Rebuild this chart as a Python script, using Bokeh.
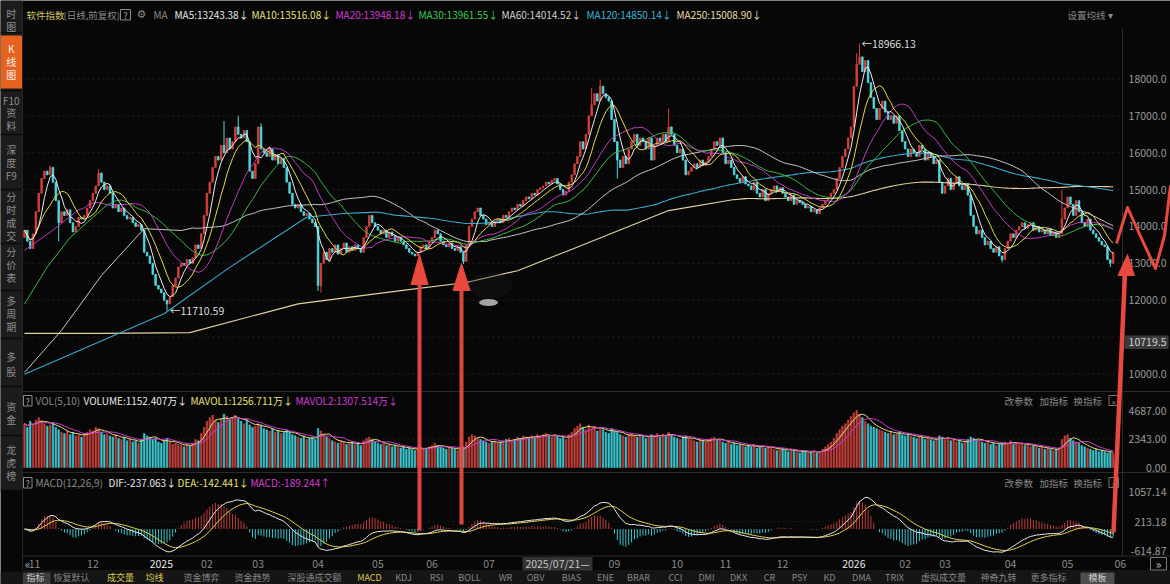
import pandas as pd
from bokeh.plotting import figure
from bokeh.models import Range1d, ColumnDataSource
from bokeh.core.properties import value
from bokeh.embed import file_html
from bokeh.resources import INLINE

# ---------------- data ----------------
closes = [
    13900, 13600, 13400, 13800, 14400, 14900, 15300, 15500, 15400, 15600, 15200,
    14700, 14100, 14400, 14300, 14450, 14100, 13850, 14000, 14250, 14200, 14300,
    14500, 14700, 14900, 15100, 15450, 15200, 15000, 15100, 14900, 14500, 14600,
    14400, 14500, 14300, 14200, 14250, 14100, 14000, 14050, 13900, 13300, 13200,
    13000, 12700, 12400, 12300, 12200, 12000, 11900, 12100, 12400, 12600,
    12900, 13000, 12950, 13100, 13000, 13150, 13500, 13400,
    13800, 14300, 14900, 15200, 15600, 15900, 15800, 16200, 16000, 16400,
    16100, 16300, 16700, 16500, 16400, 16600, 16300, 15500, 15300, 15700, 16700,
    16100, 16000, 15900, 16100, 15800, 15950, 15700, 15850, 15600, 15200, 14900, 14600, 14500,
    14600, 14400, 14300, 14350, 14200, 14100, 14000, 12400, 13000, 13300, 13100, 13400,
    13300, 13500, 13250, 13400, 13550, 13300, 13450, 13350, 13500, 13400, 13300,
    13700, 14000, 14300, 14100, 14000, 13900, 13800, 13900, 13700, 13850, 13750, 13600, 13700,
    13600, 13500, 13400, 13300, 13250, 13200, 13300, 13450, 13500, 13400, 13600, 13700,
    13900, 13800, 13600, 13500, 13450, 13550, 13400, 13350, 13450, 13300, 13050,
    13500, 14000, 14200, 14400, 14500, 14300, 14200, 14050, 14100, 14000, 14150, 14200, 14100,
    14300, 14250, 14400, 14500, 14450, 14600, 14550, 14700, 14800, 14750, 14900, 14850, 15000, 15050,
    15100, 15200, 15150, 15250, 15300, 15150, 15000, 14850, 14950,
    15200, 15400, 15700, 15900, 16300, 16100, 16500, 17000, 17300, 17600, 17400, 17800,
    17600, 17500, 17400, 16900, 16300, 15800, 15600, 15900, 15700,
    16100, 16300, 16500, 16200, 16400, 16300, 16100, 16400, 15800, 16200, 16400, 16300, 16500, 16300, 16700, 16500,
    16200, 16000, 16100, 15800, 15400, 15500, 15600, 15700, 15600, 15800, 15650, 15750,
    15900, 16100, 16300, 16200, 16400, 16000, 15700, 15800, 15600, 15400, 15300, 15200, 15350, 15150,
    15100, 15000, 15200, 14900, 14800, 15000, 14700, 14900,
    15000, 15100, 14950, 15050, 14900, 14800, 14700, 14850, 14600, 14700, 14650, 14600, 14500, 14550, 14400, 14450, 14350, 14500,
    14600, 14700, 14800, 14900, 15000, 15300, 15600, 15900, 16100, 16400, 16700,
    17800, 18400, 18600, 18200, 18500, 17900, 17500, 17200, 16900,
    17200, 17400, 17100, 16900, 17000, 16800, 17000, 16600, 16300, 16100, 15900,
    16100, 16000, 15900, 16200, 16100, 15800, 16000, 15900, 15700, 15800, 15200, 14900,
    15100, 15300, 15000, 15200, 15350, 15100, 15000, 15150, 14850, 14300, 14000, 13800, 13900,
    13700, 13500, 13600, 13400, 13300, 13450, 13200, 13100, 13400, 13600, 13800, 13700, 13900,
    14000, 14100, 13950, 14050, 14100, 13900, 14000, 13850, 13900, 13800, 13950, 13750, 13850, 13700, 13800,
    14200, 14500, 14800, 14600, 14300, 14700, 14400,
    14100, 14000, 14200, 13900, 13800, 13700, 13600, 13500, 13450, 13100, 13000, 13300,
]
first_open = 13700

volumes = [
    3600, 3300, 3800, 3500, 3900, 4100, 3800, 3600, 3400, 3500, 3700,
    3300, 3100, 2900, 2800, 3000, 2700, 2900, 2600, 2700, 2500, 2800,
    2900, 3100, 3000, 3300, 3200, 2900, 2700, 2800, 2600, 2500, 2700,
    2400, 2300, 2500, 2200, 2300, 2100, 2200, 2000, 2300, 2800, 2600,
    2500, 2300, 2400, 2100, 2000, 2200, 2400, 2100, 1900, 2000,
    1900, 1800, 1700, 1900, 1800, 2000, 2300, 2200,
    2800, 3300, 3800, 4100, 4300, 3900, 3700, 4000, 4400, 4200,
    3900, 4100, 4300, 4000, 3800, 3600, 3900, 3500, 3300, 3400, 3600,
    3500, 3200, 3100, 3000, 3200, 2900, 3000, 2800, 2900, 3100, 2900, 2700, 2600,
    2500, 2400, 2600, 2300, 2400, 2500, 2300, 3200, 3000, 2700, 2500, 2400,
    2200, 2100, 2000, 2200, 2100, 1900, 2000, 2100, 1900, 2000, 1800,
    2200, 2400, 2500, 2300, 2100, 2000, 1900, 2000, 1800, 1900, 1700, 1800, 1700,
    1600, 1700, 1500, 1600, 1500, 1400, 1600, 1700, 1500, 1600, 1700, 1800,
    2000, 1800, 1700, 1600, 1500, 1700, 1600, 1500, 1400, 1500, 1700,
    2100, 2500, 2700, 2600, 2400, 2300, 2200, 2100, 2000, 2100, 2200, 2000, 2100,
    2200, 2300, 2400, 2200, 2300, 2500, 2400, 2600, 2500, 2400, 2600, 2500, 2700, 2600,
    2700, 2800, 2600, 2500, 2700, 2600, 2400, 2500, 2300,
    2700, 2900, 3200, 3400, 3600, 3300, 3100, 3500, 3200, 3400, 3000, 3300,
    3100, 2900, 2800, 3200, 3000, 2900, 2700, 2600, 2500,
    2700, 2800, 2600, 2500, 2700, 2600, 2400, 2500, 2700, 2600, 2800, 2500, 2700, 2600, 2900, 2700,
    2500, 2400, 2300, 2500, 2600, 2400, 2300, 2200, 2100, 2300, 2200, 2100,
    2300, 2400, 2500, 2300, 2200, 2100, 2000, 2100, 1900, 2000, 1800, 1900, 1800, 1700,
    1800, 1700, 1900, 1600, 1700, 1800, 1600, 1700,
    1600, 1500, 1400, 1500, 1600, 1400, 1300, 1500, 1400, 1300, 1200, 1400, 1300, 1200, 1300, 1400, 1200, 1300,
    1500, 1700, 1900, 2100, 2400, 2800, 3100, 3400, 3600, 3900, 4200,
    4500, 4700, 4400, 4100, 3800, 3600, 3400, 3300, 3200,
    3100, 3000, 2900, 2800, 3000, 2700, 2800, 2900, 2700, 2600, 2800,
    2600, 2500, 2400, 2600, 2500, 2300, 2400, 2300, 2200, 2400, 2600, 2500,
    2300, 2400, 2200, 2300, 2100, 2200, 2000, 2100, 2300, 2500, 2400, 2300, 2200,
    2100, 2000, 2200, 1900, 2000, 1800, 1900, 2000, 2100, 2000, 2200, 1900, 2000,
    1900, 2000, 1800, 1900, 1700, 1800, 1700, 1600, 1700, 1500, 1600, 1500, 1400, 1500, 1600,
    2300, 2600, 2700, 2400, 2200, 2100, 2000,
    1800, 1700, 1600, 1500, 1400, 1500, 1300, 1400, 1300, 1200, 1250, 1152,
]

# notable wick extremes
high_idx = [9, 26, 70, 75, 83, 199, 202, 226, 292, 293, 364]
high_val = [15650, 15560, 16860, 17000, 16800, 17750, 17980, 17200, 18700, 18966.13, 15000]
low_idx = [12, 50, 103, 104, 154, 208, 343, 381]
low_val = [13600, 11710.59, 12250, 12200, 12980, 15300, 13020, 12900]

# early parts of the long averages (history before the visible window)
ma20_head_idx, ma20_head_val = [0, 10], [13350, 13900]
ma30_head_idx, ma30_head_val = [0, 8, 16], [11900, 12900, 13700]
ma60_head_idx, ma60_head_val = [0, 13, 27, 42, 55], [10040, 11180, 12670, 13940, 13890]
ma120_head_idx, ma120_head_val = [0, 49, 72, 99, 112], [9990, 11630, 12890, 14250, 14350]
ma250_head_idx = [0, 27, 58, 96, 132, 155, 173, 191, 226]
ma250_head_val = [11100, 11100, 11120, 11900, 12260, 12480, 12800, 13350, 14430]

month_tick_idx = [3.5, 24, 48, 64, 82, 103, 124, 143, 163, 207, 229, 246, 266, 291, 309, 323, 346, 366, 384.5]
month_tick_lbl = ["11", "12", "2025", "02", "03", "04", "05", "06", "07", "09", "10", "11", "12",
                  "2026", "02", "03", "04", "05", "06"]
price_ticks = [18000, 17000, 16000, 15000, 14000, 13000, 12000, 10000]
price_tick_lbl = ["18000.0", "17000.0", "16000.0", "15000.0", "14000.0", "13000.0", "12000.0", "10000.0"]
grid_ticks = [18000, 17000, 16000, 15000, 14000, 13000, 12000, 11000, 10000]
vol_ticks = [4687, 2343, 0]
vol_tick_lbl = ["4687.00", "2343.00", "0.00"]
macd_ticks = [1057.14, 213.18, -614.87]
macd_tick_lbl = ["1057.14", "213.18", "-614.87"]

# ---------------- derived ----------------
N = len(closes)
idx = list(range(N))
c = pd.Series(closes, dtype=float)
opens = [first_open] + closes[:-1]
tops = [max(a, b) for a, b in zip(opens, closes)]
bots = [min(a, b) for a, b in zip(opens, closes)]
highs = list(tops)
lows = list(bots)
for i, v in zip(high_idx, high_val):
    highs[i] = max(highs[i], v)
for i, v in zip(low_idx, low_val):
    lows[i] = min(lows[i], v)

RED = "#d4413b"
CYAN = "#4fd8e0"
VRED = "#c23f3b"
VCYAN = "#3cc6ce"
cols = [RED if cl >= op else CYAN for op, cl in zip(opens, closes)]
vcols = [VRED if cl >= op else VCYAN for op, cl in zip(opens, closes)]

def joined(hidx, hval, n):
    full = c.rolling(n).mean()
    xs = list(hidx) + list(range(n - 1, N))
    ys = list(hval) + list(full.iloc[n - 1:])
    return xs, ys

ma5 = c.rolling(5, min_periods=1).mean()
ma10 = c.rolling(10, min_periods=1).mean()
ma20x, ma20y = joined(ma20_head_idx, ma20_head_val, 20)
ma30x, ma30y = joined(ma30_head_idx, ma30_head_val, 30)
ma60x, ma60y = joined(ma60_head_idx, ma60_head_val, 60)
ma120x, ma120y = joined(ma120_head_idx, ma120_head_val, 120)
ma250x, ma250y = joined(ma250_head_idx, ma250_head_val, 250)

vs = pd.Series(volumes, dtype=float)
mavol1 = vs.rolling(5, min_periods=1).mean()
mavol2 = vs.rolling(10, min_periods=1).mean()

ema12 = c.ewm(span=12, adjust=False).mean()
ema26 = c.ewm(span=26, adjust=False).mean()
dif = ema12 - ema26
dea = dif.ewm(span=9, adjust=False).mean()
hist = 2 * (dif - dea)
hcols = [VRED if h >= 0 else VCYAN for h in hist]

# ---------------- layout ----------------
W, H = 1170, 584
X0, DX = 24.0, 2.85
BG = "#070707"
FONT = "Noto Sans CJK SC"

def lin_range(va, ya, vb, yb):
    m = (vb - va) / (yb - ya)
    c0 = va - m * ya
    return Range1d(start=c0 + m * H, end=c0)

p = figure(width=W, height=H, title=None,
           x_range=Range1d(-X0 / DX, (W - X0) / DX),
           y_range=lin_range(18000, 78.5, 10000, 373.4),
           output_backend="svg", toolbar_location=None, min_border=0,
           x_axis_location=None, y_axis_location=None,
           background_fill_color=BG, border_fill_color=BG, outline_line_color=None)
p.grid.visible = False
p.extra_y_ranges = {"vol": lin_range(0, 467, 4687, 410),
                    "macd": lin_range(1057.14, 491.7, -614.87, 550),
                    "sy": Range1d(H, 0)}
p.extra_x_ranges = {"sx": Range1d(0, W)}

S = dict(x_range_name="sx", y_range_name="sy")

def box(l, r, t, b, fill, line=None, alpha=1.0):
    p.quad(left=[l], right=[r], top=[t], bottom=[b], fill_color=fill, fill_alpha=alpha,
           line_color=line, **S)

def hline(x0, x1, y, color="#2a2a2a", w=1):
    p.segment(x0=[x0], x1=[x1], y0=[y], y1=[y], line_color=color, line_width=w, **S)

def txt(x, y, s, color, size="10px", align="left", font=FONT):
    p.text(x=[x], y=[y], text=[s], text_color=color, text_font_size=size, text_align=align,
           text_baseline="middle", text_font=value(font), **S)

# sidebar
box(0, 21.5, 0, 490, "#1c1c1c")
box(0, 21.5, 35, 88, "#e8621f")
for y in [32, 90, 134, 189, 243, 290, 338, 386, 435, 490]:
    hline(0, 21.5, y, "#0b0b0b", 1.5)
p.segment(x0=[22], x1=[22], y0=[0], y1=[570], line_color="#262626", **S)
side = [("时", 13), ("图", 26), ("K", 48), ("线", 61), ("图", 74), ("F10", 100), ("资", 112),
        ("料", 125), ("深", 149), ("度", 162), ("F9", 175), ("分", 196), ("时", 209), ("成", 222),
        ("交", 235), ("分", 251), ("价", 264), ("表", 277), ("多", 300), ("周", 313), ("期", 326),
        ("多", 356), ("股", 371), ("资", 406), ("金", 419), ("龙", 449), ("虎", 462), ("榜", 475)]
for s, y in side:
    col = "#fff1e6" if 40 < y < 85 else "#8e8e8e"
    txt(10.8, y, s, col, "10px", "center")

# panel separators
hline(22, W, 391)
hline(22, W, 472)
hline(22, W, 555.5)
hline(22, W, 570.5, "#262626")
p.segment(x0=[1122], x1=[1122], y0=[28], y1=[555], line_color="#2a2a2a", **S)

# grids
p.segment(x0=[22] * len(grid_ticks), x1=[1122] * len(grid_ticks), y0=grid_ticks, y1=grid_ticks,
          line_color="#242424", line_dash="2 3", x_range_name="sx")
p.segment(x0=[22], x1=[1122], y0=[2343], y1=[2343], line_color="#202020", line_dash="2 3",
          x_range_name="sx", y_range_name="vol")
p.segment(x0=[22], x1=[1122], y0=[213.18], y1=[213.18], line_color="#202020", line_dash="2 3",
          x_range_name="sx", y_range_name="macd")

# candles
cs = ColumnDataSource(dict(x=idx, top=tops, bottom=bots, high=highs, low=lows, color=cols))
p.segment(x0="x", x1="x", y0="low", y1="high", line_color="color", line_width=1, source=cs)
p.vbar(x="x", width=0.55, top="top", bottom="bottom", fill_color="color", line_color="color",
       line_width=0.8, source=cs)

# moving averages
p.line(ma250x, ma250y, line_color="#e2d3a4", line_width=1.1)
p.line(ma120x, ma120y, line_color="#3aa9cc", line_width=1.1)
p.line(ma60x, ma60y, line_color="#c6c6c6", line_width=1.0)
p.line(ma30x, ma30y, line_color="#3cba45", line_width=1.0)
p.line(ma20x, ma20y, line_color="#c23cc4", line_width=1.0)
p.line(idx, list(ma10), line_color="#e6d84c", line_width=1.0)
p.line(idx, list(ma5), line_color="#ececec", line_width=1.0)

# volume
vsrc = ColumnDataSource(dict(x=idx, v=volumes, color=vcols))
p.vbar(x="x", width=0.55, top="v", bottom=0, fill_color="color", line_color="color",
       line_width=0.6, source=vsrc, y_range_name="vol")
p.line(idx, list(mavol1), line_color="#e6e07a", line_width=1, y_range_name="vol")
p.line(idx, list(mavol2), line_color="#d23cd2", line_width=1, y_range_name="vol")

# macd
msrc = ColumnDataSource(dict(x=idx, h=list(hist), color=hcols))
p.segment(x0="x", x1="x", y0=0, y1="h", line_color="color", line_width=1, source=msrc,
          y_range_name="macd")
p.line(idx, list(dea), line_color="#e6d24a", line_width=1, y_range_name="macd")
p.line(idx, list(dif), line_color="#e8e8e8", line_width=1, y_range_name="macd")

# extreme labels
p.text(x=[293], y=[18966.13], text=["←18966.13"], text_color="#dcdcdc", text_font_size="10.5px",
       text_baseline="middle", x_offset=2, text_font=value(FONT))
p.text(x=[50], y=[11710.59], text=["←11710.59"], text_color="#dcdcdc", text_font_size="10.5px",
       text_baseline="middle", x_offset=3, text_font=value(FONT))

# right axis labels
GRAY = "#9a9a9a"
p.text(x=[1166] * len(price_ticks), y=price_ticks, text=price_tick_lbl, text_color=GRAY,
       text_font_size="10.5px", text_align="right", text_baseline="middle", text_font=value(FONT),
       x_range_name="sx")
box(1124, 1168, 335, 348.5, "#3a3a3a")
txt(1166, 341.7, "10719.5", "#d0d0d0", "10.5px", "right")
p.text(x=[1166] * 3, y=vol_ticks, text=vol_tick_lbl, text_color=GRAY, text_font_size="10.5px",
       text_align="right", text_baseline="middle", text_font=value(FONT),
       x_range_name="sx", y_range_name="vol")
p.text(x=[1166] * 3, y=macd_ticks, text=macd_tick_lbl, text_color=GRAY, text_font_size="10.5px",
       text_align="right", text_baseline="middle", text_font=value(FONT),
       x_range_name="sx", y_range_name="macd")

# date axis
for t, lbl in zip(month_tick_idx, month_tick_lbl):
    col = "#e6e6e6" if len(lbl) == 4 else "#8a8a8a"
    p.text(x=[t], y=[563], text=[lbl], text_color=col, text_font_size="10.5px", text_align="center",
           text_baseline="middle", text_font=value(FONT), y_range_name="sy")
box(522, 592, 556.5, 570, "#333333")
txt(557, 563, "2025/07/21—", "#c4c4c4", "10.5px", "center")
txt(27, 563, "«", "#aaaaaa", "12px", "center")
box(1150, 1166, 557, 569.5, None, "#777777")
txt(1158, 563, "»", "#bbbbbb", "12px", "center")

# header
HY = 14
txt(26, HY, "软件指数", "#d4c86a", "9.5px")
txt(63, HY, "(日线,前复权)", "#8a8a8a", "9.5px")
box(120, 130, 9, 19.5, None, "#8a8a8a")
txt(125, HY, "?", "#b0b0b0", "8.5px", "center")
txt(136, HY, "⚙", "#8a8a8a", "11px", "left", "DejaVu Sans")
txt(153, HY, "MA", "#8a8a8a", "10px")
txt(174, HY, "MA5:13243.38↓", "#e8e8e8", "10px")
txt(251, HY, "MA10:13516.08↓", "#e6e07a", "10px")
txt(335, HY, "MA20:13948.18↓", "#d13cd1", "10px")
txt(418, HY, "MA30:13961.55↓", "#3ccc55", "10px")
txt(501, HY, "MA60:14014.52↓", "#cfcfcf", "10px")
txt(586, HY, "MA120:14850.14↓", "#3cb4d6", "10px")
txt(676, HY, "MA250:15008.90↓", "#e6dcb0", "10px")
txt(1067, HY, "设置均线 ▾", "#8a8a8a", "9.5px")

# indicator headers
for yy, items in [(400, [(35, "VOL(5,10)", "#8a8a8a"), (83, "VOLUME:1152.407万↓", "#e8e8e8"),
                         (190, "MAVOL1:1256.711万↓", "#e6e07a"), (295, "MAVOL2:1307.514万↓", "#d23cd2")]),
                  (482, [(35, "MACD(12,26,9)", "#8a8a8a"), (108, "DIF:-237.063↓", "#e8e8e8"),
                         (177, "DEA:-142.441↓", "#e6e07a"), (250, "MACD:-189.244↑", "#d23cd2")])]:
    box(23, 31.5, yy - 5, yy + 5.5, None, "#8a8a8a")
    txt(27.3, yy, "?", "#b0b0b0", "8.5px", "center")
    for x, s, col in items:
        txt(x, yy, s, col, "10px")
    txt(1004, yy, "改参数", "#8a8a8a", "9.5px")
    txt(1039, yy, "加指标", "#8a8a8a", "9.5px")
    txt(1073, yy, "换指标", "#8a8a8a", "9.5px")
    box(1108.5, 1118, yy - 5, yy + 5, None, "#777777")
    txt(1113.3, yy, "»", "#999999", "8.5px", "center")

# bottom tab bar
box(0, W, 571, H, "#151515")
box(22.5, 50, 572, H, "#3c3c3c")
box(1080, 1114, 572, H, "#4e4e4e")
tabs = [(35, "指标"), (71, "恢复默认"), (120, "成交量"), (154, "均线"), (201, "资金博弈"),
        (252, "资金趋势"), (314, "深股通成交额"), (369, "MACD"), (403, "KDJ"), (436, "RSI"),
        (469, "BOLL"), (505, "WR"), (535, "OBV"), (571, "BIAS"), (605, "ENE"), (638, "BRAR"),
        (675, "CCI"), (706, "DMI"), (738, "DKX"), (769, "CR"), (799, "PSY"), (829, "KD"),
        (861, "DMA"), (894, "TRIX"), (943, "虚拟成交量"), (998, "神奇九转"), (1048, "更多指标"),
        (1097, "模板")]
for x, s in tabs:
    if s in ("成交量", "均线", "MACD"):
        col = "#d8c850"
    elif s in ("指标", "模板"):
        col = "#d0d0d0"
    else:
        col = "#878787"
    txt(x, 576.8, s, col, "9px", "center")

# glare smudge
p.ellipse(x=[490], y=[285], width=44, height=26, fill_color="#1e1e1e", fill_alpha=0.35,
          line_color=None, **S)
p.ellipse(x=[488], y=[302], width=19, height=7, fill_color="#e6e6e6", fill_alpha=0.7,
          line_color=None, **S)

# hand-drawn red arrows
AR = "#e9493f"
for x, yb, yt, yh in [(419, 530, 254, 284), (461, 524, 263, 290)]:
    p.line(x=[x, x], y=[yb, yh - 2], line_color=AR, line_width=4, line_alpha=0.95, **S)
    p.patch(x=[x, x - 8.5, x + 8.5], y=[yt, yh, yh], fill_color=AR, line_color=AR, **S)
p.line(x=[1113, 1124.5], y=[532, 272], line_color=AR, line_width=4.5, **S)
p.patch(x=[1127, 1117.5, 1134], y=[254, 275, 275], fill_color=AR, line_color=AR, **S)
p.line(x=[1116, 1127, 1141, 1155, 1164, 1170], y=[243, 207, 238, 268, 235, 185],
       line_color=AR, line_width=3, line_join="round", **S)

open("out.html", "w").write(file_html(p, INLINE))
